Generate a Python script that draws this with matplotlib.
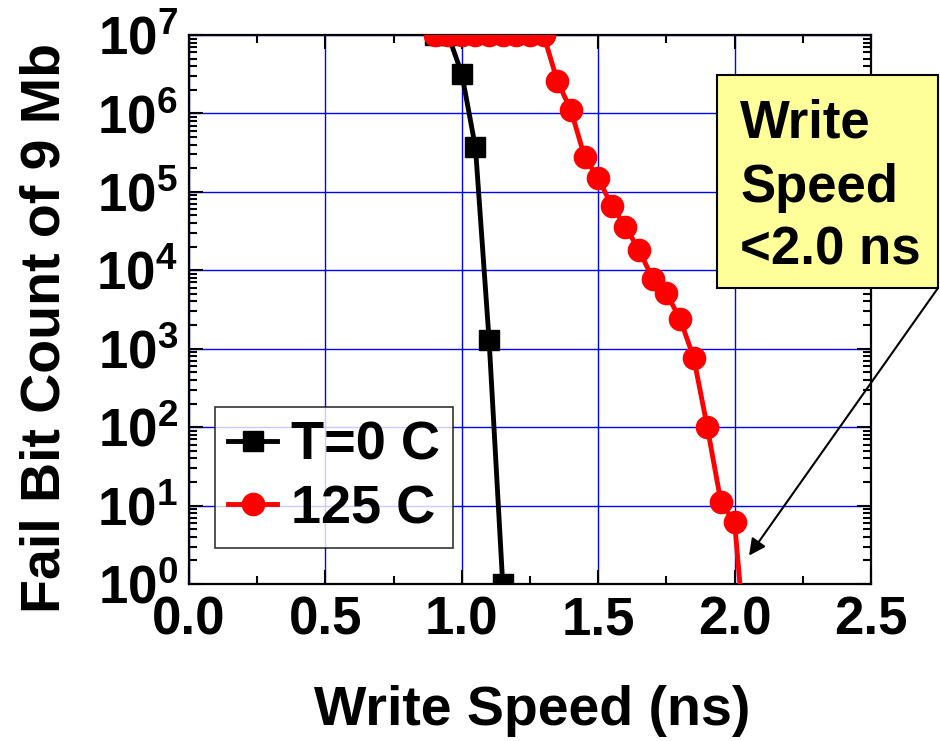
import math
import matplotlib
matplotlib.use("Agg")
import matplotlib.pyplot as plt
from matplotlib.ticker import MultipleLocator, LogLocator, FuncFormatter, NullFormatter
from matplotlib.patches import Rectangle

# ---- data ----
speed_0C = [0.90, 0.95, 1.00, 1.05, 1.10, 1.15]
fail_0C = [1e7, 1e7, 3.2e6, 3.7e5, 1.3e3, 1.0]

speed_125C = [0.90, 0.95, 1.00, 1.05, 1.10, 1.15, 1.20, 1.25, 1.30,
              1.35, 1.40, 1.45, 1.50, 1.55, 1.60, 1.65, 1.70, 1.75,
              1.80, 1.85, 1.90, 1.95, 2.00, 2.05]
fail_125C = [1e7, 1e7, 1e7, 1e7, 1e7, 1e7, 1e7, 1e7, 1e7,
             2.6e6, 1.1e6, 2.8e5, 1.5e5, 6.6e4, 3.6e4, 1.8e4, 7.8e3, 5.1e3,
             2.4e3, 7.7e2, 1.0e2, 11, 6.1, 0.06]

labels = ["T=0 C", "125 C"]
xticks = [0.0, 0.5, 1.0, 1.5, 2.0, 2.5]
xlabel = "Write Speed (ns)"
ylabel = "Fail Bit Count of 9 Mb"
note_lines = ["Write", "Speed", "<2.0 ns"]

plt.rcParams['font.family'] = ['Liberation Sans', 'DejaVu Sans']
plt.rcParams['font.weight'] = 'bold'
plt.rcParams['mathtext.fontset'] = 'custom'
plt.rcParams['mathtext.rm'] = 'Liberation Sans:bold'
plt.rcParams['mathtext.bf'] = 'Liberation Sans:bold'
plt.rcParams['mathtext.it'] = 'Liberation Sans:bold'

W, H = 940, 741
fig = plt.figure(figsize=(W / 100, H / 100), dpi=100)
ax = fig.add_axes([189 / W, 1 - 584 / H, (871 - 189) / W, (584 - 35) / H])

ax.plot(speed_0C, fail_0C, color='black', lw=3.5, marker='s', ms=14,
        label=labels[0], zorder=3)
ax.plot(speed_125C, fail_125C, color='#ff0000', lw=3.5, marker='o', ms=16,
        label=labels[1], zorder=4)

ax.set_yscale('log')
ax.set_xlim(0, 2.5)
ax.set_ylim(1, 1e7)
ax.set_xticks(xticks)
ax.xaxis.set_major_formatter(FuncFormatter(lambda v, p: f"{v:.1f}"))
ax.xaxis.set_minor_locator(MultipleLocator(0.25))
ax.yaxis.set_major_locator(LogLocator(base=10, numticks=20))
ax.yaxis.set_minor_locator(LogLocator(base=10, subs=range(2, 10), numticks=20))
ax.yaxis.set_minor_formatter(NullFormatter())
ax.yaxis.set_major_formatter(FuncFormatter(
    lambda v, p: r"$\mathbf{10^{%d}}$" % round(math.log10(v))))

ax.grid(True, which='major', color='#0000ff', lw=1.0)
ax.set_axisbelow(True)
for s in ax.spines.values():
    s.set_linewidth(1.6)
    s.set_color('black')

ax.tick_params(which='both', direction='in', top=True, right=True, width=1.5)
ax.tick_params(which='major', length=10)
ax.tick_params(which='minor', length=6)
ax.tick_params(axis='x', which='major', labelsize=38, pad=8)
ax.tick_params(axis='y', which='major', labelsize=38, pad=8)

fig.text(532 / W, 1 - 725 / H, xlabel, fontsize=40, fontweight='bold',
         ha='center', va='baseline')
fig.text(60 / W, 1 - 328 / H, ylabel, fontsize=40, fontweight='bold',
         ha='center', va='baseline', rotation=90, rotation_mode='anchor')

leg = ax.legend(loc='lower left', bbox_to_anchor=(0.038, 0.066),
                borderaxespad=0, fontsize=39, frameon=True, fancybox=False,
                handlelength=0.9, handletextpad=0.25, labelspacing=0.25,
                borderpad=0.25, markerscale=1.0)
leg.get_frame().set_edgecolor('black')
leg.get_frame().set_linewidth(1.2)
for t in leg.get_texts():
    t.set_fontweight('bold')

# annotation box
fig.patches.append(Rectangle((717 / W, 1 - 288 / H), (938 - 717) / W, (288 - 75) / H,
                             transform=fig.transFigure, facecolor='#ffff99',
                             edgecolor='black', lw=1.5, zorder=5))
for line, base in zip(note_lines, [138, 202, 265]):
    fig.text(740 / W, 1 - base / H, line, fontsize=38, fontweight='bold',
             va='baseline', ha='left', zorder=6)

ax.annotate('', xy=(2.053, 2.3), xycoords='data',
            xytext=(938 / W, 1 - 288 / H), textcoords='figure fraction',
            arrowprops=dict(arrowstyle='-|>', color='black', lw=1.5,
                            mutation_scale=25, shrinkA=0, shrinkB=0),
            annotation_clip=False)

fig.savefig('out.png', dpi=100)
